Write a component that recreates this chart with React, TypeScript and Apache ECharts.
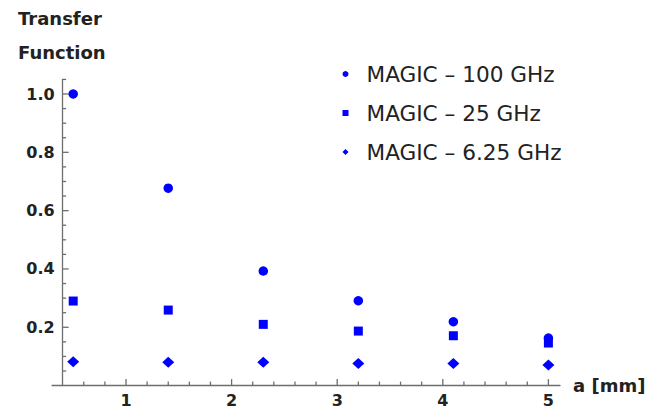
import React, { useEffect, useRef } from "react";
import * as echarts from "echarts";

const aValues = [0.5, 1.4, 2.3, 3.2, 4.1, 5.0];
const magic100 = [1.0, 0.677, 0.393, 0.291, 0.219, 0.163];
const magic25 = [0.29, 0.259, 0.21, 0.187, 0.171, 0.146];
const magic625 = [0.082, 0.08, 0.08, 0.076, 0.076, 0.071];

const seriesNames = ["MAGIC \u2013 100 GHz", "MAGIC \u2013 25 GHz", "MAGIC \u2013 6.25 GHz"];

const xMajorTicks = [1, 2, 3, 4, 5];
const xMinorTicks = [0.6, 0.8, 1.2, 1.4, 1.6, 1.8, 2.2, 2.4, 2.6, 2.8, 3.2, 3.4, 3.6, 3.8, 4.2, 4.4, 4.6, 4.8];
const yMajorTicks = [0.2, 0.4, 0.6, 0.8, 1.0];
const yMinorTicks = [0.05, 0.1, 0.15, 0.25, 0.3, 0.35, 0.45, 0.5, 0.55, 0.65, 0.7, 0.75, 0.85, 0.9, 0.95, 1.05];

const BLUE = "#0000ff";
const AXIS = "#6e6e6e";
const TEXT = "#222";
const FONT = "DejaVu Sans";

// axis ranges
const X_MIN = 0.4; // where the y axis sits
const X_LINE_MIN = 0.3; // where the x axis line starts
const X_MAX = 5.11;
const X_MAJOR_MIN = 1;
const X_MAJOR_MAX = 5;
const Y_MIN = 0;
const Y_MAX = 1.05;
const Y_MAJOR_MAX = 1.0;

// pixel layout of the plot
const PX_X0 = 20.4; // pixel of a = 0
const PX_PER_X = 105.6;
const PX_Y0 = 385.6; // pixel of value 0
const PX_PER_Y = 291.6;
const W = 650;
const H = 411;

const xl = (v: number) => PX_X0 + v * PX_PER_X;
const yt = (v: number) => PX_Y0 - v * PX_PER_Y;

export default function App() {
  const ref = useRef<HTMLDivElement>(null);
  useEffect(() => {
    if (!ref.current) return;
    const chart = echarts.init(ref.current, undefined, { renderer: "svg" });
    const pairs = (ys: number[]) => aValues.map((x, i) => [x, ys[i]]);
    const bottom = H - PX_Y0;
    const mkGrid = (xmin: number, xmax: number, ymax: number) => ({
      left: xl(xmin),
      right: W - xl(xmax),
      top: yt(ymax),
      bottom,
      containLabel: false,
    });
    const hiddenX = (gridIndex: number, min: number, max: number) => ({ gridIndex, type: "value", min, max, show: false });
    const hiddenY = (gridIndex: number, min: number, max: number) => ({ gridIndex, type: "value", min, max, show: false });

    const xTickSeries = (vals: number[], len: number) => ({
      type: "scatter",
      xAxisIndex: 0,
      yAxisIndex: 0,
      silent: true,
      symbol: "rect",
      symbolSize: [1.3, len],
      symbolOffset: [0, -len / 2],
      itemStyle: { color: AXIS, opacity: 1 },
      data: vals.map((v) => [v, Y_MIN]),
      z: 3,
      clip: false,
    });
    const yTickSeries = (vals: number[], len: number) => ({
      type: "scatter",
      xAxisIndex: 0,
      yAxisIndex: 0,
      silent: true,
      symbol: "rect",
      symbolSize: [len, 1.3],
      symbolOffset: [len / 2, 0],
      itemStyle: { color: AXIS, opacity: 1 },
      data: vals.map((v) => [X_MIN, v]),
      z: 3,
      clip: false,
    });

    chart.setOption({
      animation: false,
      backgroundColor: "#fff",
      title: {
        text: "Transfer\nFunction",
        left: 18,
        top: 1,
        padding: 0,
        textStyle: { fontFamily: FONT, fontWeight: "bold", fontSize: 18, lineHeight: 34, color: TEXT },
      },
      legend: {
        orient: "vertical",
        left: 342.5,
        top: 62,
        padding: 0,
        itemWidth: 6,
        itemHeight: 6,
        itemGap: 15,
        textStyle: { fontFamily: FONT, fontSize: 21.6, lineHeight: 24, color: TEXT, padding: [0, 0, 0, 13] },
        data: [
          { name: seriesNames[0], icon: "circle" },
          { name: seriesNames[1], icon: "rect" },
          { name: seriesNames[2], icon: "diamond" },
        ],
      },
      grid: [
        mkGrid(X_MIN, X_MAX, Y_MAX), // 0: series, y axis line, ticks
        mkGrid(X_MIN, X_MAX, Y_MAJOR_MAX), // 1: y labels
        mkGrid(X_MAJOR_MIN, X_MAJOR_MAX, Y_MAX), // 2: x labels
        mkGrid(X_LINE_MIN, X_MAX, Y_MAX), // 3: x axis line + name
      ],
      xAxis: [
        hiddenX(0, X_MIN, X_MAX),
        hiddenX(1, X_MIN, X_MAX),
        {
          gridIndex: 2,
          type: "value",
          min: X_MAJOR_MIN,
          max: X_MAJOR_MAX,
          interval: 1,
          splitLine: { show: false },
          axisLine: { show: false },
          axisTick: { show: false },
          axisLabel: {
            margin: 7,
            fontFamily: FONT,
            fontWeight: "bold",
            fontSize: 16,
            color: TEXT,
            formatter: (v: number) => String(Math.round(v)),
          },
        },
        {
          gridIndex: 3,
          type: "value",
          min: X_LINE_MIN,
          max: X_MAX,
          splitLine: { show: false },
          axisLine: { show: true, lineStyle: { color: AXIS, width: 1.3 } },
          axisTick: { show: false },
          axisLabel: { show: false },
          name: "a [mm]",
          nameLocation: "end",
          nameGap: 13,
          nameTextStyle: { fontFamily: FONT, fontWeight: "bold", fontSize: 18, color: TEXT },
        },
      ],
      yAxis: [
        {
          gridIndex: 0,
          type: "value",
          min: Y_MIN,
          max: Y_MAX,
          splitLine: { show: false },
          axisLine: { show: true, lineStyle: { color: AXIS, width: 1.3 } },
          axisTick: { show: false },
          axisLabel: { show: false },
        },
        {
          gridIndex: 1,
          type: "value",
          min: Y_MIN,
          max: Y_MAJOR_MAX,
          interval: 0.2,
          splitLine: { show: false },
          axisLine: { show: false },
          axisTick: { show: false },
          axisLabel: {
            showMinLabel: false,
            margin: 8,
            fontFamily: FONT,
            fontWeight: "bold",
            fontSize: 16,
            color: TEXT,
            formatter: (v: number) => (v === 0 ? "" : v.toFixed(1)),
          },
        },
        hiddenY(2, Y_MIN, Y_MAX),
        hiddenY(3, Y_MIN, Y_MAX),
      ],
      series: [
        xTickSeries(xMajorTicks, 6.5),
        xTickSeries(xMinorTicks, 4),
        yTickSeries(yMajorTicks, 6),
        yTickSeries(yMinorTicks, 3.5),
        {
          name: seriesNames[0],
          type: "scatter",
          xAxisIndex: 0,
          yAxisIndex: 0,
          symbol: "circle",
          symbolSize: 9.5,
          itemStyle: { color: BLUE, opacity: 1 },
          data: pairs(magic100),
          z: 5,
        },
        {
          name: seriesNames[1],
          type: "scatter",
          xAxisIndex: 0,
          yAxisIndex: 0,
          symbol: "rect",
          symbolSize: 9,
          itemStyle: { color: BLUE, opacity: 1 },
          data: pairs(magic25),
          z: 5,
        },
        {
          name: seriesNames[2],
          type: "scatter",
          xAxisIndex: 0,
          yAxisIndex: 0,
          symbol: "diamond",
          symbolSize: [12, 11],
          itemStyle: { color: BLUE, opacity: 1 },
          data: pairs(magic625),
          z: 5,
        },
      ],
    });
    return () => chart.dispose();
  }, []);
  return (
    <div
      ref={ref}
      style={{ position: "absolute", left: 0, top: 0, width: W, height: H, background: "#fff" }}
    />
  );
}
